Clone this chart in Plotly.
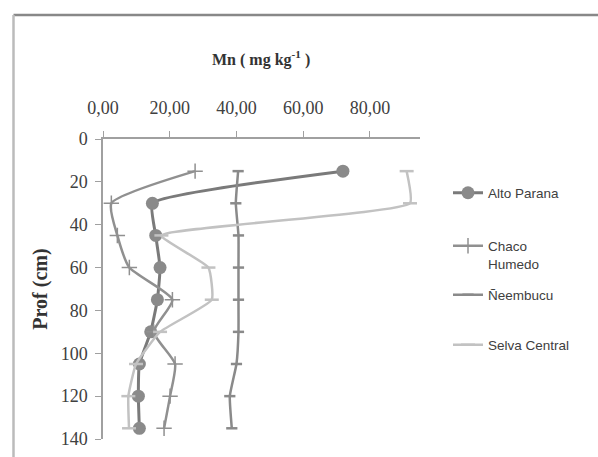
import plotly.graph_objects as go

depth = [15, 30, 45, 60, 75, 90, 105, 120, 135]
alto_parana = [71.9, 14.8, 15.8, 17.1, 16.3, 14.3, 10.9, 10.6, 10.9]
chaco_humedo = [27.6, 2.5, 4.3, 7.9, 20.8, 15.2, 21.6, 20.1, 18.3]
neembucu = [40.5, 39.8, 40.6, 40.6, 40.6, 40.6, 40.0, 38.0, 38.6]
selva_central = [91.0, 92.0, 17.5, 31.6, 32.6, 17.1, 9.9, 7.6, 7.8]

x_tickvals = [0, 20, 40, 60, 80]
x_ticktext = ["0,00", "20,00", "40,00", "60,00", "80,00"]
y_tickvals = [0, 20, 40, 60, 80, 100, 120, 140]

W, H = 598, 457
L, R, T, B = 103, 178, 139, 18
SM = 0.4

fig = go.Figure()

fig.add_trace(go.Scatter(
    x=alto_parana, y=depth, name="Alto Parana", mode="lines+markers",
    line=dict(color="#7a7a7a", width=3, shape="spline", smoothing=SM),
    marker=dict(symbol="circle", size=13, color="#8a8a8a"),
    legend="legend"))
fig.add_trace(go.Scatter(
    x=chaco_humedo, y=depth, name="Chaco<br>Humedo", mode="lines+markers",
    line=dict(color="#909090", width=2.5, shape="spline", smoothing=0.55),
    marker=dict(symbol="cross-thin", size=11, color="#909090",
                line=dict(color="#909090", width=1.5)),
    legend="legend2"))
fig.add_trace(go.Scatter(
    x=neembucu, y=depth, name="Ñeembucu", mode="lines+markers",
    line=dict(color="#8a8a8a", width=2.5, shape="spline", smoothing=SM),
    marker=dict(symbol="line-ew", size=8, color="#8a8a8a",
                line=dict(color="#8a8a8a", width=2.5)),
    legend="legend3"))
fig.add_trace(go.Scatter(
    x=selva_central, y=depth, name="Selva Central", mode="lines+markers",
    line=dict(color="#c2c2c2", width=2.5, shape="spline", smoothing=SM),
    marker=dict(symbol="line-ew", size=10, color="#c2c2c2",
                line=dict(color="#c2c2c2", width=2.5)),
    legend="legend4"))

legend_font = dict(family="Liberation Sans, Arial, sans-serif",
                   size=13.5, color="#404040")

def leg(ypx):
    return dict(x=448 / W, y=1 - ypx / H, xref="container", yref="container",
                xanchor="left", yanchor="middle", font=legend_font,
                bgcolor="rgba(0,0,0,0)", valign="top", itemwidth=30)

tick_font = dict(family="Liberation Serif, Times New Roman, serif", size=18,
                 color="#404040")

fig.update_layout(
    width=W, height=H,
    margin=dict(l=L, r=R, t=T, b=B, pad=0, autoexpand=False),
    paper_bgcolor="white", plot_bgcolor="white",
    showlegend=True,
    legend=leg(193), legend2=leg(255), legend3=leg(295), legend4=leg(345),
    xaxis=dict(side="top", range=[0, 95], tickvals=x_tickvals, ticktext=x_ticktext,
               showgrid=False, zeroline=False, showline=True, linecolor="#a0a0a0",
               linewidth=1.5, ticks="outside", ticklen=6, tickcolor="#a0a0a0",
               tickfont=tick_font, ticklabelstandoff=10, automargin=False),
    yaxis=dict(range=[140, 0], tickvals=y_tickvals, showgrid=False, zeroline=False,
               showline=True, linecolor="#a0a0a0", linewidth=1.5, ticks="outside",
               ticklen=6, tickcolor="#a0a0a0", tickfont=tick_font,
               ticklabelstandoff=4, automargin=False,
               title=dict(text="<b>Prof (cm)</b>", standoff=8,
                          font=dict(family="Liberation Serif, serif", size=20,
                                    color="#333333"))),
)

pw, ph = W - L - R, H - T - B
fig.add_annotation(text="<b>Mn ( mg kg<sup>-1</sup> )</b>",
                   x=(261 - L) / pw, y=(H - B - 58) / ph,
                   xref="paper", yref="paper", showarrow=False,
                   xanchor="center", yanchor="middle",
                   font=dict(family="Liberation Serif, serif", size=16, color="#333333"))

# outer frame lines
fx = (13.5 - L) / pw
fy = (H - B - 15) / ph
fig.add_shape(type="line", xref="paper", yref="paper", x0=fx, x1=(W + 5 - L) / pw,
              y0=fy, y1=fy, line=dict(color="#888888", width=2.5))
fig.add_shape(type="line", xref="paper", yref="paper", x0=fx, x1=fx,
              y0=fy, y1=(-5 - B) / ph, line=dict(color="#bbbbbb", width=2.5))

fig.write_html("out.html", config={"displayModeBar": False},
               post_script="document.body.style.margin='0';document.body.style.overflow='hidden';")
